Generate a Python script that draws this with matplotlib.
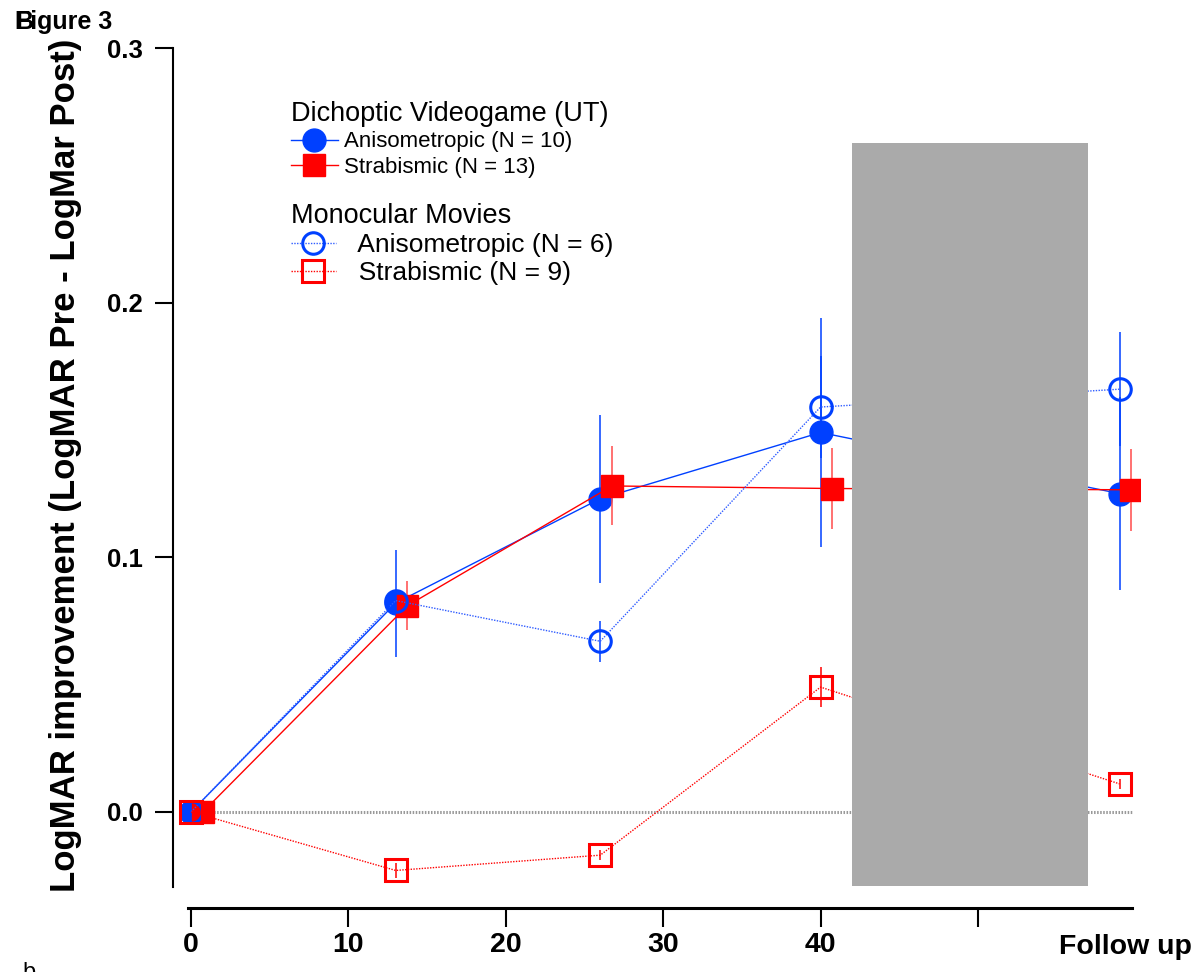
import matplotlib
matplotlib.use('Agg')
import matplotlib.pyplot as plt
from matplotlib.patches import Rectangle

plt.rcParams['font.family'] = ['Liberation Sans', 'DejaVu Sans']

# ---------------- data ----------------
weeks = [0, 13, 26, 40, 59]          # 59 = "Follow up"
square_offset = 0.75                  # filled squares drawn slightly to the right
dich_aniso = [0.0, 0.082, 0.123, 0.149, 0.125]
dich_aniso_err = [0.0, 0.021, 0.033, 0.045, 0.038]
dich_strab = [0.0, 0.081, 0.128, 0.127, 0.1265]
dich_strab_err = [0.0, 0.0095, 0.0155, 0.016, 0.016]
mono_aniso = [0.0, 0.083, 0.067, 0.159, 0.166]
mono_aniso_err = [0.0, 0.004, 0.008, 0.020, 0.0225]
mono_strab = [0.0, -0.023, -0.017, 0.049, 0.011]
mono_strab_err = [0.0, 0.003, 0.002, 0.008, 0.002]

shade_x = (42, 57)
shade_y = (-0.029, 0.2625)

xtick_vals = [0, 10, 20, 30, 40, 50]
xtick_labels = ['0', '10', '20', '30', '40', '']
followup_pos = 59.4
followup_label = 'Follow up'
ytick_vals = [0.0, 0.1, 0.2, 0.3]

labels_dich = ['Anisometropic (N = 10)', 'Strabismic (N = 13)']
labels_mono = ['  Anisometropic (N = 6)', '  Strabismic (N = 9)']
title_dich = 'Dichoptic Videogame (UT)'
title_mono = 'Monocular Movies'
ylabel = 'LogMAR improvement (LogMAR Pre - LogMar Post)'

# ---------------- style ----------------
BLUE = '#0040FF'
BLUE_DOT = '#2F5CFF'
RED = '#FF0000'
RED_ERR = '#FF4A4A'
GRAY = '#AAAAAA'

fig = plt.figure(figsize=(11.91, 9.72), dpi=100)
ax = fig.add_axes([173 / 1191, 1 - 887 / 972, 967 / 1191, (887 - 48) / 972])

xs_sq = [w + square_offset for w in weeks]

# zero reference line
ax.plot([-0.5, 59.8], [0, 0], color='#999999', lw=2.2, ls=(0, (0.5, 0.5)), zorder=1)

# dichoptic anisometropic
ax.errorbar(weeks, dich_aniso, yerr=dich_aniso_err, fmt='none', ecolor=BLUE,
            elinewidth=1.1, capsize=0, zorder=2)
l1, = ax.plot(weeks, dich_aniso, color=BLUE, lw=1.0, marker='o', ms=16.5,
              mfc=BLUE, mec=BLUE, zorder=2)
# dichoptic strabismic
ax.errorbar(xs_sq, dich_strab, yerr=dich_strab_err, fmt='none', ecolor=RED_ERR,
            elinewidth=1.1, capsize=0, zorder=2.1)
l2, = ax.plot(xs_sq, dich_strab, color=RED, lw=1.0, marker='s', ms=16.5,
              mfc=RED, mec=RED, zorder=2.1)
# monocular anisometropic
ax.errorbar(weeks, mono_aniso, yerr=mono_aniso_err, fmt='none', ecolor=BLUE,
            elinewidth=1.1, capsize=0, zorder=2.2)
l3, = ax.plot(weeks, mono_aniso, color=BLUE_DOT, lw=1.0, ls=(0, (1, 1)),
              marker='o', ms=15.5, mfc='none', mec=BLUE, mew=2.2, zorder=2.2)
# monocular strabismic
ax.errorbar(weeks, mono_strab, yerr=mono_strab_err, fmt='none', ecolor=RED,
            elinewidth=1.1, capsize=0, zorder=2.3)
l4, = ax.plot(weeks, mono_strab, color=RED, lw=1.0, ls=(0, (1, 1)),
              marker='s', ms=15.5, mfc='none', mec=RED, mew=2.2, zorder=2.3)

# shaded gap
ax.add_patch(Rectangle((shade_x[0], shade_y[0]), shade_x[1] - shade_x[0],
                       shade_y[1] - shade_y[0], facecolor=GRAY, edgecolor='none',
                       zorder=5))

# axes limits / spines
ax.set_xlim(-1.15, 60.3)
ax.set_ylim(-0.0295, 0.3)
for s in ['top', 'right']:
    ax.spines[s].set_visible(False)
ax.spines['left'].set_linewidth(1.5)
ax.spines['bottom'].set_linewidth(2.2)
ax.spines['bottom'].set_position(('outward', 15.1))
ax.spines['bottom'].set_bounds(-0.2, 59.8)

ax.set_yticks(ytick_vals)
ax.set_yticklabels([f'{v:.1f}' for v in ytick_vals], fontsize=18.5, fontweight='bold')
ax.tick_params(axis='y', direction='out', length=13, width=1.5, pad=9)

ax.set_xticks(xtick_vals)
ax.set_xticklabels(xtick_labels, fontsize=20.5, fontweight='bold')
ax.set_xticks([followup_pos], minor=True)
ax.set_xticklabels([followup_label], minor=True, fontsize=20.5, fontweight='bold')
ax.tick_params(axis='x', which='major', direction='out', length=14, width=1.5, pad=3)
ax.tick_params(axis='x', which='minor', length=0, pad=3 + 14 + 2)

fig.text(66 / 1191, 1 - 465 / 972, ylabel, rotation=90, ha='center', va='center',
         fontsize=25, fontweight='bold')

# legends
leg1 = ax.legend(handles=[l1, l2], labels=labels_dich, title=title_dich,
                 title_fontsize=19.5, fontsize=16, loc='upper left',
                 bbox_to_anchor=(291 / 1191, 1 - 101 / 972), bbox_transform=fig.transFigure,
                 frameon=False, alignment='left', borderpad=0, borderaxespad=0,
                 handlelength=2.1, handletextpad=0.3, labelspacing=0.2)
ax.add_artist(leg1)
leg2 = ax.legend(handles=[l3, l4], labels=labels_mono, title=title_mono,
                 title_fontsize=19.5, fontsize=19, loc='upper left',
                 bbox_to_anchor=(291 / 1191, 1 - 203 / 972), bbox_transform=fig.transFigure,
                 frameon=False, alignment='left', borderpad=0, borderaxespad=0,
                 handlelength=1.7, handletextpad=0.3, labelspacing=0.16)

# figure labels
fig.text(15 / 1191, 1 - 22 / 972, 'Figure 3', fontsize=18, fontweight='bold',
         ha='left', va='center')
fig.text(15 / 1191, 1 - 22 / 972, 'B', fontsize=18, fontweight='bold',
         ha='left', va='center')
fig.text(22 / 1191, 1 - 962 / 972, 'b', fontsize=17, ha='left', va='top')

fig.savefig('out.png', dpi=100)
